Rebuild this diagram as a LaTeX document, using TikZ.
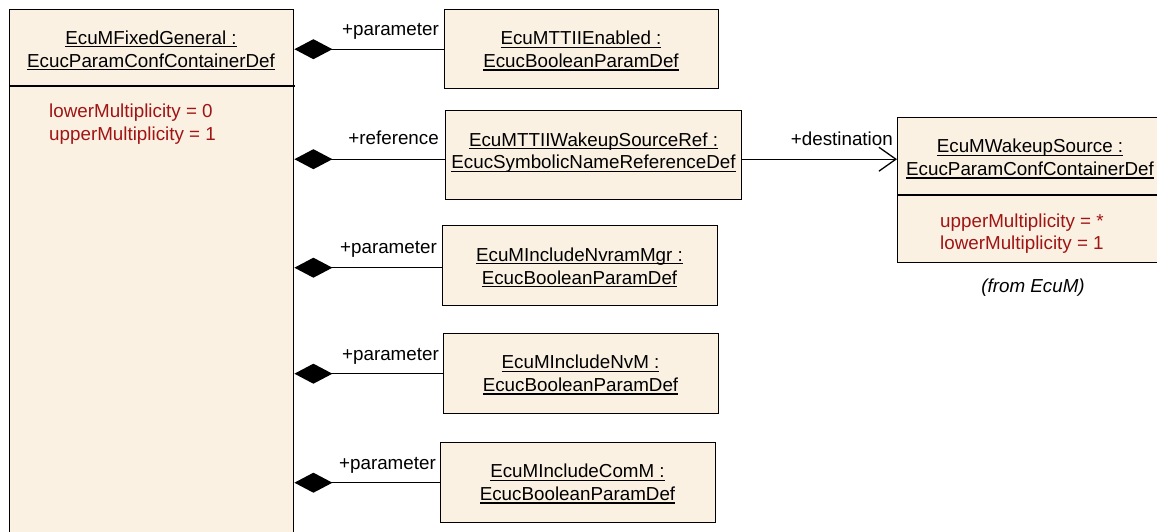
\documentclass[tikz,border=0pt]{standalone}
\usepackage{fontspec}
\setmainfont{Liberation Sans}
\usetikzlibrary{arrows.meta}
\definecolor{boxfill}{RGB}{251,241,227}
\definecolor{attrred}{RGB}{160,20,20}
\newcommand\umlul[1]{\setbox0=\hbox{#1}\rlap{\rule[-3pt]{\wd0}{1.2pt}}\box0}
\tikzset{
  umlbox/.style={draw=black, line width=1.4pt, fill=boxfill, inner sep=0pt, anchor=north west},
  umltitle/.style={align=center, inner sep=0pt, font=\fontsize{18.8}{22.8}\selectfont},
  umlattr/.style={align=left, inner sep=0pt, anchor=west, text=attrred, font=\fontsize{18.8}{22.8}\selectfont},
  rolelbl/.style={inner sep=0pt, anchor=base east, font=\fontsize{18.8}{22.8}\selectfont},
  comp/.style={line width=1.3pt, {Diamond[length=38pt,width=20pt]}-},
  assoc/.style={line width=1.3pt, -{Straight Barb[length=17pt,width=24pt,line width=1.3pt]}},
  sepline/.style={line width=1.4pt}
}
\begin{document}
\begin{tikzpicture}[x=1pt,y=-1pt]
\useasboundingbox (0,0) rectangle (1157,531);
\clip (0,0) rectangle (1157,531);
% main container
\node[umlbox, minimum width=284pt, minimum height=560pt] (big) at (9,9) {};
\draw[sepline] (9,86) -- (295,86);
\node[umltitle] (bigt) at (151,50.4) {\umlul{EcuMFixedGeneral :}\\\umlul{EcucParamConfContainerDef}};
\node[umlattr] (biga) at (49,124.1) {lowerMultiplicity = 0\\upperMultiplicity = 1};
% parameter boxes
\node[umlbox, minimum width=274pt, minimum height=79pt] (b1) at (444,9) {};
\node[umltitle] (b1t) at (581,50.9) {\umlul{EcuMTTIIEnabled :}\\\umlul{EcucBooleanParamDef}};
\node[umlbox, minimum width=296pt, minimum height=89pt] (b2) at (445,110) {};
\node[umltitle] (b2t) at (593.5,152.6) {\umlul{EcuMTTIIWakeupSourceRef :}\\\umlul{EcucSymbolicNameReferenceDef}};
\node[umlbox, minimum width=275pt, minimum height=80pt] (b3) at (442,225) {};
\node[umltitle] (b3t) at (579.5,267.4) {\umlul{EcuMIncludeNvramMgr :}\\\umlul{EcucBooleanParamDef}};
\node[umlbox, minimum width=275pt, minimum height=80pt] (b4) at (443,333) {};
\node[umltitle] (b4t) at (580.5,374.9) {\umlul{EcuMIncludeNvM :}\\\umlul{EcucBooleanParamDef}};
\node[umlbox, minimum width=275pt, minimum height=80pt] (b5) at (440,442) {};
\node[umltitle] (b5t) at (577.5,483.9) {\umlul{EcuMIncludeComM :}\\\umlul{EcucBooleanParamDef}};
% wakeup source
\node[umlbox, minimum width=268pt, minimum height=145pt] (ws) at (897,117) {};
\draw[sepline] (897,195) -- (1165,195);
\node[umltitle] (wst) at (1030,158.9) {\umlul{EcuMWakeupSource :}\\\umlul{EcucParamConfContainerDef}};
\node[umlattr] (wsa) at (940,233.6) {upperMultiplicity = *\\lowerMultiplicity = 1};
\node[inner sep=0pt, anchor=base, font=\fontsize{18.8}{22.8}\selectfont\itshape] (from) at (1033,292) {(from EcuM)};
% connectors
\draw[comp] (b1.west -| big.east) -- (b1.west);
\draw[comp] ([yshift=-4pt]b2.west -| big.east) -- ([yshift=-4pt]b2.west);
\draw[comp] ([yshift=-2pt]b3.west -| big.east) -- ([yshift=-2pt]b3.west);
\draw[comp] (b4.west -| big.east) -- (b4.west);
\draw[comp] (b5.west -| big.east) -- (b5.west);
\draw[assoc] ([yshift=-4pt]b2.east) -- ([yshift=-4pt]b2.east -| ws.west);
% role labels
\node[rolelbl] (l1) at (439,35) {+parameter};
\node[rolelbl] (l2) at (439,144) {+reference};
\node[rolelbl] (l3) at (437,253) {+parameter};
\node[rolelbl] (l4) at (439,360) {+parameter};
\node[rolelbl] (l5) at (436,469) {+parameter};
\node[rolelbl] (l6) at (893,145) {+destination};
\end{tikzpicture}
\end{document}
